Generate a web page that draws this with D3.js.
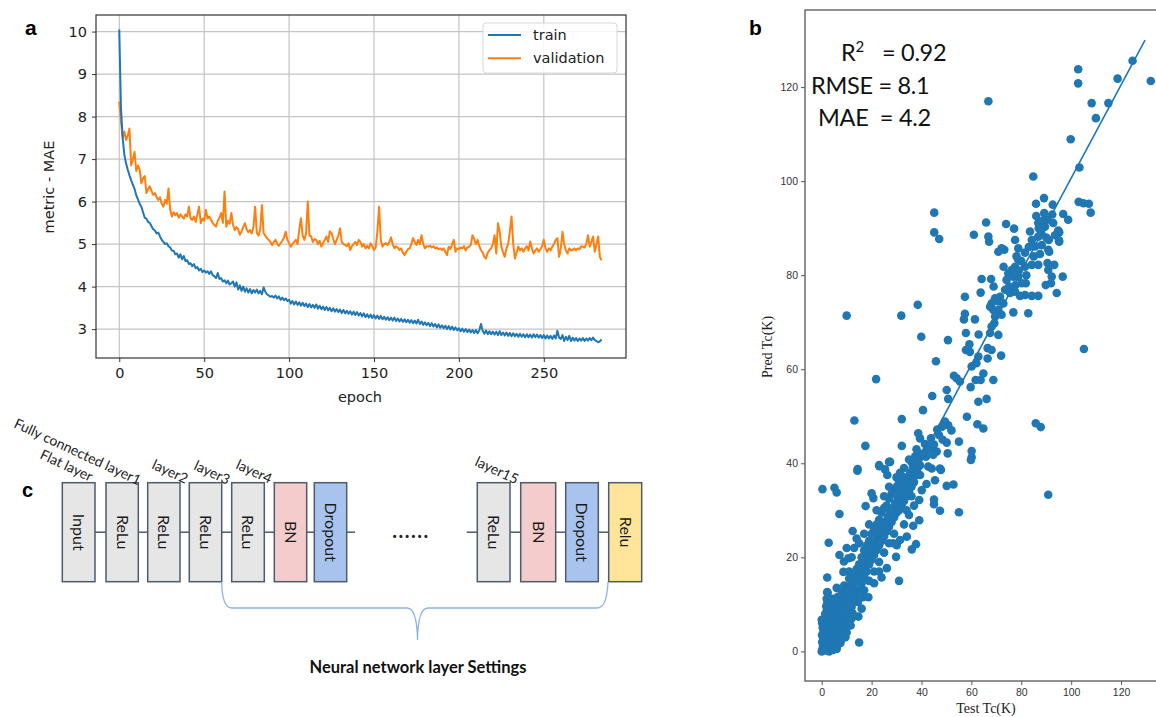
<!DOCTYPE html>
<html><head><meta charset="utf-8">
<script src="https://cdn.jsdelivr.net/npm/d3@7"></script>
<style>body{margin:0;background:#fff}svg{display:block}</style>
</head><body>
<svg id="fig" width="1156" height="717"></svg>
<script>
// ---------------- DATA ----------------
const epochTicks = [0, 50, 100, 150, 200, 250];
const maeTicks = [3, 4, 5, 6, 7, 8, 9, 10];
const seriesNames = ["train", "validation"];
const trainMAE = [
10.05,8.2,7.5,7.1,6.9,6.75,6.62,6.5,6.4,6.3,
6.15,6.05,5.95,5.88,5.75,5.62,5.6,5.52,5.5,5.42,
5.35,5.32,5.25,5.27,5.18,5.1,5.05,5.0,5.02,4.95,
4.92,4.85,4.84,4.76,4.78,4.68,4.76,4.64,4.72,4.6,
4.62,4.53,4.55,4.48,4.53,4.43,4.46,4.38,4.42,4.34,
4.38,4.33,4.36,4.3,4.36,4.27,4.24,4.2,4.32,4.18,
4.2,4.12,4.15,4.08,4.14,4.05,4.08,4.12,4.0,4.1,
3.93,4.03,3.9,4.0,3.88,3.96,3.86,3.94,3.84,3.92,
3.86,3.93,3.84,3.9,3.82,3.98,3.88,3.82,3.79,3.76,
3.78,3.74,3.79,3.72,3.77,3.69,3.74,3.68,3.72,3.66,
3.69,3.6,3.66,3.58,3.65,3.57,3.63,3.55,3.62,3.54,
3.6,3.52,3.59,3.51,3.57,3.5,3.58,3.48,3.55,3.47,
3.53,3.45,3.52,3.44,3.5,3.42,3.49,3.41,3.47,3.4,
3.46,3.38,3.45,3.37,3.43,3.36,3.42,3.34,3.41,3.33,
3.4,3.32,3.38,3.3,3.37,3.28,3.35,3.27,3.34,3.26,
3.33,3.25,3.32,3.24,3.31,3.23,3.29,3.22,3.28,3.21,
3.27,3.2,3.27,3.19,3.25,3.18,3.24,3.17,3.23,3.16,
3.22,3.15,3.21,3.14,3.2,3.13,3.22,3.12,3.18,3.1,
3.16,3.09,3.15,3.07,3.14,3.06,3.12,3.04,3.11,3.03,
3.09,3.02,3.08,3.0,3.07,2.99,3.06,2.98,3.04,2.97,
3.02,2.95,3.01,2.94,3.0,2.93,2.99,2.92,2.98,2.91,
2.98,2.9,2.97,3.12,2.96,2.89,2.97,2.88,2.95,2.88,
2.94,2.87,2.94,2.86,2.95,2.86,2.92,2.85,2.92,2.84,
2.91,2.83,2.9,2.83,2.89,2.82,2.89,2.82,2.88,2.81,
2.88,2.81,2.87,2.8,2.88,2.81,2.87,2.8,2.86,2.79,
2.86,2.78,2.85,2.78,2.84,2.77,2.85,2.78,2.96,2.8,
2.77,2.86,2.72,2.82,2.74,2.84,2.72,2.8,2.73,2.79,
2.72,2.78,2.73,2.79,2.72,2.78,2.73,2.79,2.74,2.8,
2.74,2.72,2.69,2.71,2.76];
const validationMAE = [
8.35,7.9,7.5,7.65,7.45,7.55,7.72,6.85,7.0,7.17,
6.72,6.85,6.75,6.43,6.55,6.6,6.2,6.3,6.36,6.25,
6.16,6.2,6.1,6.04,6.1,5.95,5.88,6.04,5.95,6.31,
5.8,5.65,5.75,5.68,5.73,5.62,5.7,5.65,5.6,5.7,
5.65,5.88,5.6,5.57,5.65,5.52,5.7,5.88,5.49,5.6,
5.55,5.81,5.6,5.65,5.57,5.5,5.45,5.41,5.55,5.62,
5.73,5.5,6.24,5.41,5.55,5.48,5.73,5.45,5.33,5.4,
5.35,5.22,5.3,5.4,5.49,5.35,5.28,5.33,5.25,5.4,
5.88,5.26,5.2,5.35,5.92,5.26,5.2,5.14,5.1,5.05,
4.98,5.05,5.1,5.0,4.96,5.02,5.08,5.15,5.29,5.1,
5.02,4.94,5.0,5.05,5.1,5.0,5.35,5.61,5.2,5.1,
5.25,6.0,5.2,5.18,5.05,5.12,5.1,5.0,5.08,4.94,
5.02,5.1,5.18,5.05,5.3,5.26,5.12,5.0,5.1,5.2,
5.37,5.05,5.0,4.98,4.95,5.02,4.86,4.95,5.0,5.05,
4.98,5.1,5.05,4.94,5.0,4.9,4.96,4.9,5.02,4.95,
4.86,4.92,5.3,5.88,5.1,4.94,5.0,5.02,4.98,5.05,
5.16,5.0,4.9,4.95,4.92,4.86,4.9,4.8,4.74,4.82,
4.88,4.9,5.0,5.14,5.05,4.98,5.1,5.0,5.21,5.0,
4.9,4.95,4.94,4.96,4.92,4.95,4.9,4.92,4.88,4.9,
4.86,4.9,4.82,4.74,4.94,4.88,5.0,5.1,4.82,4.9,
4.88,4.92,4.9,4.95,4.85,4.92,4.94,4.98,5.21,5.12,
5.0,5.1,4.95,4.86,4.8,4.7,4.66,4.8,4.86,4.9,
5.0,5.21,4.78,5.49,5.3,4.94,4.8,4.7,4.9,5.0,
5.3,5.65,5.0,4.66,4.8,4.94,4.85,4.9,4.82,4.9,
4.95,4.85,5.06,4.9,4.78,4.85,4.9,4.82,4.88,4.95,
5.1,4.9,4.82,4.9,4.85,4.94,5.0,5.1,5.14,4.7,
4.9,5.29,5.0,4.85,4.78,4.9,4.85,4.86,4.9,4.85,
4.9,4.88,4.95,4.94,4.92,5.0,5.21,4.94,5.05,5.18,
4.82,5.0,5.18,4.7,4.62];

const tcTicks = [0, 20, 40, 60, 80, 100, 120];
// [Test Tc, Pred Tc]
const testPredPairs = [
[102.8,123.8],[102.8,120.8],[118.6,121.8],[124.6,125.6],[131.9,121.3],[66.8,117.0],[108.2,116.6],[114.9,116.6],[109.9,113.4],[99.8,108.9],[103.3,102.9],[84.8,101.0],[45.1,93.3],[45.1,89.1],[47.1,87.7],[103.0,95.6],[104.9,95.3],[107.1,95.2],[107.8,93.3],[85.9,95.2],[89.1,96.4],[92.6,95.0],[65.9,91.2],[73.9,90.9],[77.1,89.9],[61.0,88.6],[66.8,88.2],[67.1,87.1],[96.8,93.0],[98.8,91.8],
[86.0,92.6],[89.2,93.2],[92.4,92.9],[86.8,91.1],[89.5,90.3],[92.8,91.1],[94.8,89.5],[83.5,89.3],[84.2,87.5],[86.8,88.2],[88.2,86.4],[90.8,85.4],[95.1,87.4],[85.5,86.1],[81.5,84.8],[77.5,87.5],[78.8,85.7],[78.1,84.0],[72.1,85.7],[73.2,85.4],[70.8,85.0],[72.9,81.8],[78.8,83.3],[77.5,81.8],[81.5,81.8],[84.2,82.2],[86.8,82.2],[90.5,82.6],[93.2,82.2],[90.8,81.1],[92.2,79.7],[91.9,78.3],[89.8,77.9],[96.6,79.7],[94.2,76.2],[76.1,81.1],[74.8,80.4],[74.1,79.0],[76.8,79.7],[78.8,79.7],[77.7,77.9],[80.2,78.3],[81.8,78.3],[75.1,77.6],[73.5,76.9],[75.5,76.2],[77.5,76.5],[79.5,75.6],[81.5,75.8],[84.2,75.6],[86.8,75.6],[71.5,75.4],[69.5,75.1],[68.1,74.0],[70.8,74.4],[72.8,74.0],[67.5,73.3],[68.8,72.6],[70.8,72.6],[76.8,72.1],[82.8,71.9],[95.2,89.1],[95.2,87.1],[91.2,85.0],[88,89],[87,90],[90,88],[91,87.5],[83,86],[80,83],[82,80],[79,81],[85,84],[87.5,84.5],[88.5,91.5],[90.5,91.8],[93.5,88.5],
[64.1,79.2],[67.9,79.2],[68.9,77.6],[63.7,76.3],[57.4,75.4],[38.5,73.7],[10.0,71.4],[31.9,71.4],[57.4,71.8],[57.0,70.6],[61.4,70.6],[69.5,71.2],[72.1,71.6],[69.2,69.8],[68.1,69.1],[67.5,67.7],[70.8,67.3],[57.8,67.7],[62.9,67.4],[39.9,66.9],[50.6,66.2],[59.2,65.3],[57.8,64.1],[59.4,63.7],[62.8,62.7],[66.5,64.5],[68.1,64.1],[66.5,62.3],[71.9,62.9],[105.1,64.3],[45.8,61.7],[60.1,60.6],[62.0,61.3],[21.8,57.9],[53.0,58.6],[54.1,58.1],[55.4,57.4],[64.8,59.1],[61.7,57.7],[63.7,57.7],[68.8,57.7],[59.7,56.2],[50.1,55.6],[44.3,54.3],[50.7,53.7],[62.8,53.1],[66.1,53.7],[40.6,51.3],[13.1,49.1],[32.1,49.4],[58.2,49.9],[49.4,48.9],[50.7,48.1],[48.3,47.8],[46.3,47.2],[62.4,48.3],[64.8,47.4],[85.8,48.5],[87.8,47.7],[38.7,46.4],[39.4,45.3],[43.8,45.3],[41.4,44.1],[43.4,43.2],[46.1,42.5],[44.7,41.8],[50.1,44.4],[55.0,44.6],[50.5,42.1],[60.1,42.6],[60.1,41.3],[17.5,43.7],[32.1,43.7],[41.8,41.4],[14.4,38.8],[23.0,39.6],[27.0,40.3],[36.1,40.2],[39.4,39.6],[42.7,39.3],[47.4,38.9],[59.8,40.7],[47,46],[45,44],[42,42.8],[40,42],[37.5,41.5],[35,40.8],[38,43],[48.5,45],[52,47],
[0.3,34.5],[5.1,34.8],[6.0,33.8],[7.1,29.2],[14.3,38.4],[2.8,23.1],[90.8,33.3],[17.6,30.9],[23.1,39.4],[25.4,38.7],[26.3,37.5],[31.4,38.0],[27.4,40.3],[35.1,36.9],[36.7,37.9],[39.4,37.5],[44.1,38.9],[47.8,38.6],[45.4,36.4],[42.0,35.6],[50.1,35.2],[52.8,35.5],[40.1,34.3],[45.0,32.3],[45.0,31.3],[47.4,29.9],[55.0,29.6],[39.1,32.2],[39.1,27.9],[36.7,26.7],[37.8,22.8],[36.1,21.7],[34.1,24.4],[31.4,23.7],[30.1,22.6],[28.7,23.0],[29.8,20.1],[26.1,17.7],[24.0,15.7],[31.0,15.0],[15.0,1.9],[18.7,11.5],[16.0,9.1],[14.7,7.4],[12.4,25.6],[14.0,24.0],[20.0,33.6],[20.7,32.6],[7.1,20.5],[8.9,19.1],[10.7,19.8],[2.2,15.7],[6.0,13.5],[2.2,12.6],[8.7,16.9],[0,6.7],
[12.5,14],[13,16],[13.5,12],[14,17.5],[14.5,15],[15,13],[15,18.5],[15.5,16.5],[16,14.5],[16,20],[16.5,18],[17,16],[17,21.5],[17.5,19],[18,17],[18,22.5],[18.5,20.5],[19,18.5],[19,23.5],[19.5,21.5],[20,19.5],[20,25],[20.5,22.5],[21,20.5],[21,26],[21.5,23.5],[22,21.5],[22,27],[22.5,24.5],[23,22.5],[23,28],[23.5,25.5],[24,23.5],[24,29.5],[24.5,26.5],[25,24.5],[25,30.5],[25.5,27.5],[26,25.5],[26,31],[26.5,28.5],[27,26.5],[27,32.5],[27.5,29.5],[28,27.5],[28,33.5],[28.5,30.5],[29,28.5],[29,34],[29.5,31.5],[30,29.5],[30,35],[30.5,32.5],[31,30],[31,36],[31.5,33.5],[32,31],[32.5,34.5],[33,32],[33,37],[33.5,35.5],[34,33],[34.5,36.5],[35,34],[35.5,38],[36,35],[36.5,39],[37,36],[37.5,40.5],[38,37.5],[38.5,39],[39,41],[21,17],[23,19],[25,21],[27,23],[29,25],[33,27],[35,29],[37,31],[19,15],[17,13],[12,20],[13,22],[15,23],[17,25],[19,27],[22,30],[25,33],[27,35],[30,37],[33,39],[10,22],[11,17],[9,14],[14.5,10.5],[16.5,11.5],[21,14.5],[23,17],[34,30],[36,33],
[0,0],[0.3,0.5],[0.5,1.2],[0.2,2],[0.6,2.8],[0.1,3.5],[0.8,4.2],[0.4,5],[0.2,6],[0.7,6.7],[1,0.3],[1.2,1],[1.5,1.8],[1.1,2.5],[1.6,3.2],[1.3,4],[1.8,4.8],[1.2,5.5],[1.6,6.3],[1.9,7.2],[1.4,8],[2.1,8.8],[1.8,9.6],[2.3,10.4],[2,11.2],[2.4,12.4],[2,0.2],[2.3,0.8],[2.6,1.5],[2.2,2.2],[2.8,3],[2.5,3.8],[3,4.5],[2.7,5.2],[3.2,6],[2.9,6.8],[3.4,7.5],[3.1,8.3],[3.5,9.1],[3.3,10],[3.8,11],[3,0],[3.5,0.6],[3.8,1.3],[3.4,2],[4,2.7],[3.7,3.4],[4.2,4.2],[3.9,5],[4.4,5.7],[4.1,6.5],[4.6,7.2],[4.3,8],[4.8,8.8],[4.5,9.6],[5,10.4],[4.7,11.2],[4.5,0.3],[5,1],[4.8,1.7],[5.3,2.4],[5,3.1],[5.5,3.8],[5.2,4.6],[5.7,5.3],[5.4,6.1],[5.9,6.8],[5.6,7.6],[6.1,8.4],[5.8,9.2],[6.3,10],[6,10.8],[6.5,11.6],[6,0.5],[6.4,1.4],[6.2,2.2],[6.8,3],[6.5,3.8],[7,4.6],[6.8,5.4],[7.3,6.2],[7,7],[7.5,7.8],[7.2,8.6],[7.8,9.4],[7.5,10.2],[8,11],[7.7,11.8],[8.3,12.6],[7.5,1.8],[8,2.6],[7.8,3.4],[8.3,4.2],[8.1,5],[8.6,5.8],[8.4,6.6],[8.9,7.4],[8.6,8.2],[9.1,9],[8.8,9.8],[9.3,10.6],[9,11.4],[9.6,12.2],[9.2,13],[9.5,3],[10,4],[9.8,5],[10.3,6],[10.1,7],[10.6,8],[10.3,9],[10.9,10],[10.6,11],[11.2,12],[10.9,13],[11.5,14],[11,15.5],[11.6,5.5],[12,7],[12.3,8.2],[12,9.5],[12.6,10.5],[12.3,11.5],[12.9,12.5],[12.6,13.5],[13.2,14.5],[12.8,15.5],[13.5,16.5]
];
const fitLineTest = [0, 129.6];
const fitLinePred = [1.5, 130];
const statLines = ["RMSE = 8.1", "MAE  = 4.2"];
const r2Value = "= 0.92";

const layerBoxLabels = ["Input","ReLu","ReLu","ReLu","ReLu","BN","Dropout","ReLu","BN","Dropout","Relu"];
const layerBoxKinds  = ["gray","gray","gray","gray","gray","bn","drop","gray","bn","drop","relu"];
const layerNames = ["Fully connected layer1","Flat layer","layer2","layer3","layer4","layer15"];

// ---------------- DRAW ----------------
const svg = d3.select("#fig");
const sans = "'DejaVu Sans', sans-serif";
const cal = "Lato, 'Open Sans', sans-serif";

// ===== Panel a =====
const xA = d3.scaleLinear().domain([-13.7, 298.4]).range([96, 626]);
const yA = d3.scaleLinear().domain([2.32, 10.39]).range([358, 15]);
const gA = svg.append("g");
gA.selectAll(".gx").data(epochTicks).join("line")
  .attr("x1", d => xA(d)).attr("x2", d => xA(d)).attr("y1", 15).attr("y2", 358)
  .attr("stroke", "#c4c4c4").attr("stroke-width", 1.2);
gA.selectAll(".gy").data(maeTicks).join("line")
  .attr("y1", d => yA(d)).attr("y2", d => yA(d)).attr("x1", 96).attr("x2", 626)
  .attr("stroke", "#c4c4c4").attr("stroke-width", 1.2);
const lineA = d3.line().x((d, i) => xA(i)).y(d => yA(d));
gA.append("path").datum(validationMAE).attr("d", lineA)
  .attr("fill", "none").attr("stroke", "#ff7f0e").attr("stroke-width", 2).attr("stroke-linejoin","round");
gA.append("path").datum(trainMAE).attr("d", lineA)
  .attr("fill", "none").attr("stroke", "#1f77b4").attr("stroke-width", 2).attr("stroke-linejoin","round");
const axXA = gA.append("g").attr("transform", "translate(0,358)")
  .call(d3.axisBottom(xA).tickValues(epochTicks).tickSize(4).tickPadding(6));
const axYA = gA.append("g").attr("transform", "translate(96,0)")
  .call(d3.axisLeft(yA).tickValues(maeTicks).tickSize(4).tickPadding(5));
[axXA, axYA].forEach(a => {
  a.select(".domain").remove();
  a.selectAll("text").attr("font-family", sans).attr("font-size", 14.5).attr("fill", "#222");
  a.selectAll("line").attr("stroke", "#333");
});
gA.append("rect").attr("x", 96).attr("y", 15).attr("width", 530).attr("height", 343)
  .attr("fill", "none").attr("stroke", "#333").attr("stroke-width", 1.2);
gA.append("text").attr("x", 360).attr("y", 402).attr("text-anchor", "middle")
  .attr("font-family", sans).attr("font-size", 14.5).attr("fill", "#222").text("epoch");
gA.append("text").attr("transform", "translate(54,187) rotate(-90)").attr("text-anchor", "middle")
  .attr("font-family", sans).attr("font-size", 14.5).attr("fill", "#222").text("metric - MAE");
const lg = gA.append("g");
lg.append("rect").attr("x", 483).attr("y", 23).attr("width", 134).attr("height", 50).attr("rx", 3)
  .attr("fill", "#fff").attr("fill-opacity", 0.85).attr("stroke", "#d8d8d8");
const legColors = ["#1f77b4", "#ff7f0e"];
seriesNames.forEach((n, i) => {
  const y = 35 + i * 23.3;
  lg.append("line").attr("x1", 488).attr("x2", 521).attr("y1", y).attr("y2", y)
    .attr("stroke", legColors[i]).attr("stroke-width", 2);
  lg.append("text").attr("x", 533).attr("y", y + 5).attr("font-family", sans).attr("font-size", 14.5)
    .attr("fill", "#222").text(n);
});
svg.append("text").attr("x", 25).attr("y", 35).attr("font-family", "'Liberation Sans', Arial, sans-serif")
  .attr("font-weight", "bold").attr("font-size", 21).text("a");

// ===== Panel b =====
const xB = d3.scaleLinear().domain([-6.7, 135.6]).range([805, 1160]);
const yB = d3.scaleLinear().domain([-6.3, 136.4]).range([681, 10]);
const gB = svg.append("g");
gB.append("rect").attr("x", 805).attr("y", 10).attr("width", 355).attr("height", 671)
  .attr("fill", "none").attr("stroke", "#555").attr("stroke-width", 1.3);
gB.selectAll("circle").data(testPredPairs).join("circle")
  .attr("cx", d => xB(d[0])).attr("cy", d => yB(d[1])).attr("r", 4.3).attr("fill", "#1f77b4");
gB.append("line").attr("x1", xB(fitLineTest[0])).attr("y1", yB(fitLinePred[0]))
  .attr("x2", xB(fitLineTest[1])).attr("y2", yB(fitLinePred[1]))
  .attr("stroke", "#1f77b4").attr("stroke-width", 1.6);
const axXB = gB.append("g").attr("transform", "translate(0,681)")
  .call(d3.axisBottom(xB).tickValues(tcTicks).tickSize(4).tickPadding(4));
const axYB = gB.append("g").attr("transform", "translate(805,0)")
  .call(d3.axisLeft(yB).tickValues(tcTicks).tickSize(4).tickPadding(3));
[axXB, axYB].forEach(a => {
  a.select(".domain").remove();
  a.selectAll("text").attr("font-family", "'Liberation Sans', Arial, sans-serif").attr("font-size", 10.5).attr("fill", "#333");
  a.selectAll("line").attr("stroke", "#555");
});
gB.append("text").attr("x", 986).attr("y", 713).attr("text-anchor", "middle")
  .attr("font-family", "'Liberation Serif', 'Times New Roman', serif").attr("font-size", 14).attr("fill", "#222").text("Test Tc(K)");
gB.append("text").attr("transform", "translate(772,347) rotate(-90)").attr("text-anchor", "middle")
  .attr("font-family", "'Liberation Serif', 'Times New Roman', serif").attr("font-size", 14).attr("fill", "#222").text("Pred Tc(K)");
const st = gB.append("g").attr("font-family", cal).attr("font-size", 23.5).attr("letter-spacing", -0.3).attr("fill", "#111");
const r2 = st.append("text").attr("x", 841).attr("y", 61);
r2.append("tspan").text("R");
r2.append("tspan").attr("font-size", 15).attr("dy", -9).text("2");
r2.append("tspan").attr("dy", 9).attr("x", 882).text(r2Value);
st.append("text").attr("x", 811).attr("y", 94).text(statLines[0]);
st.append("text").attr("x", 818).attr("y", 126).style("white-space", "pre").text(statLines[1]);
svg.append("text").attr("x", 749).attr("y", 35).attr("font-family", "'Liberation Sans', Arial, sans-serif")
  .attr("font-weight", "bold").attr("font-size", 21).text("b");

// ===== Panel c =====
const gC = svg.append("g");
const boxLeft = [62.3, 106, 147.7, 189.3, 231.7, 274.3, 314.3, 477.3, 520.7, 565.7, 608.7];
const boxW = [32.7, 32.3, 32.3, 32.4, 32.6, 32.4, 32.4, 32.7, 35, 32.6, 33];
const boxTop = 482.7, boxH = 99, midY = 532.2;
const fills = {gray: "#e7e6e6", bn: "#f4cccc", drop: "#a8c4ee", relu: "#ffe599"};
const connStroke = "#4d5b6d";
const conn = [[0,1],[1,2],[2,3],[3,4],[4,5],[5,6],[7,8],[8,9],[9,10]];
conn.forEach(([a, b]) => {
  gC.append("line").attr("x1", boxLeft[a] + boxW[a]).attr("x2", boxLeft[b]).attr("y1", midY).attr("y2", midY)
    .attr("stroke", connStroke).attr("stroke-width", 1.5);
});
gC.append("line").attr("x1", boxLeft[6] + boxW[6]).attr("x2", 355).attr("y1", midY).attr("y2", midY).attr("stroke", connStroke).attr("stroke-width", 1.5);
gC.append("line").attr("x1", 466.7).attr("x2", boxLeft[7]).attr("y1", midY).attr("y2", midY).attr("stroke", connStroke).attr("stroke-width", 1.5);
layerBoxLabels.forEach((lab, i) => {
  gC.append("rect").attr("x", boxLeft[i]).attr("y", boxTop).attr("width", boxW[i]).attr("height", boxH)
    .attr("fill", fills[layerBoxKinds[i]]).attr("stroke", connStroke).attr("stroke-width", 1.5);
  const cx = boxLeft[i] + boxW[i] / 2;
  gC.append("text").attr("transform", `translate(${cx},${midY}) rotate(90)`)
    .attr("text-anchor", "middle").attr("dy", "0.35em")
    .attr("font-family", cal).attr("font-size", 16).attr("fill", "#1a1a1a").text(lab);
});
gC.append("text").attr("x", 411).attr("y", 538).attr("text-anchor", "middle")
  .attr("font-family", cal).attr("font-size", 20).attr("font-weight", "bold").attr("letter-spacing", 1.5).attr("fill", "#222").text("......");
const nameAnchor = [[13, 427], [39, 458], [151, 468], [193, 469], [235, 468], [474, 465]];
layerNames.forEach((n, i) => {
  gC.append("text").attr("transform", `translate(${nameAnchor[i][0]},${nameAnchor[i][1]}) rotate(25)`)
    .attr("font-family", cal).attr("font-size", 14).attr("fill", "#222").text(n);
});
gC.append("path")
  .attr("d", "M221.7,581.7 Q222,608 232,608 L407,608 Q417,608 417.5,640 Q418,608 428,608 L597,608 Q607,608 608,581.7")
  .attr("fill", "none").attr("stroke", "#8fb4e0").attr("stroke-width", 1.3);
gC.append("text").attr("x", 418).attr("y", 673).attr("text-anchor", "middle")
  .attr("font-family", cal).attr("font-weight", "bold").attr("font-size", 16.5).attr("fill", "#111")
  .text("Neural network layer Settings");
svg.append("text").attr("x", 22).attr("y", 497).attr("font-family", "'Liberation Sans', Arial, sans-serif")
  .attr("font-weight", "bold").attr("font-size", 20).text("c");
</script>
</body></html>
